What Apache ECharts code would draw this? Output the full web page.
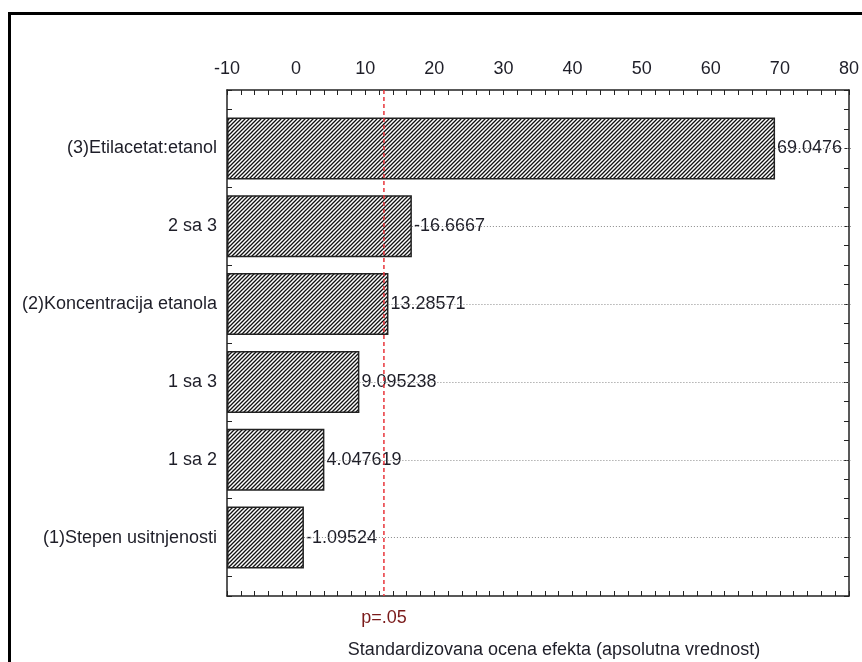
<!DOCTYPE html>
<html>
<head>
<meta charset="utf-8">
<script src="https://cdn.jsdelivr.net/npm/echarts@6/dist/echarts.min.js"></script>
<style>
  html, body { margin: 0; padding: 0; background: #fff; }
  #chart { width: 862px; height: 662px; }
</style>
</head>
<body>
<div id="chart"></div>
<script>
// factors, top to bottom
var factors = [
  "(3)Etilacetat:etanol",
  "2 sa 3",
  "(2)Koncentracija etanola",
  "1 sa 3",
  "1 sa 2",
  "(1)Stepen usitnjenosti"
];
// standardized effects (bar length = absolute value)
var effects = [69.0476, -16.6667, 13.28571, 9.095238, 4.047619, -1.09524];
var xTicks = [-10, 0, 10, 20, 30, 40, 50, 60, 70, 80];
var pCritical = 12.706;
var pLabel = "p=.05";
var axisTitle = "Standardizovana ocena efekta (apsolutna vrednost)";

var xMin = xTicks[0], xMax = xTicks[xTicks.length - 1];
var txt = "#1e1e28";
var font = "Liberation Sans, Arial, sans-serif";

// hatch pattern for bars
var tile = document.createElement("canvas");
tile.width = 4; tile.height = 4;
var ctx = tile.getContext("2d");
ctx.fillStyle = "#fff";
ctx.fillRect(0, 0, 4, 4);
ctx.strokeStyle = "#111";
ctx.lineWidth = 1.3;
ctx.beginPath();
ctx.moveTo(-1, 5); ctx.lineTo(5, -1);
ctx.moveTo(-1, 1); ctx.lineTo(1, -1);
ctx.moveTo(3, 5); ctx.lineTo(5, 3);
ctx.stroke();

var guideLines = effects.map(function (v, i) {
  return [{ coord: [Math.abs(v), factors[i]] }, { coord: [xMax, factors[i]] }];
});

var frameX = {
  gridIndex: 0, type: "value", min: xMin, max: xMax, interval: 10,
  axisLine: { show: true, onZero: false, lineStyle: { color: "#222", width: 1.5 } },
  axisTick: { show: true, inside: true, length: 5, lineStyle: { color: "#222" } },
  minorTick: { show: true, splitNumber: 5, length: 5, lineStyle: { color: "#222" } },
  splitLine: { show: false },
  minorSplitLine: { show: false }
};
var frameY = {
  gridIndex: 0, type: "value", min: -0.75, max: 5.75, interval: 0.25, inverse: true,
  axisLine: { show: true, onZero: false, lineStyle: { color: "#222", width: 1.5 } },
  axisTick: { show: true, inside: true, length: 5, lineStyle: { color: "#222" } },
  axisLabel: { show: false },
  splitLine: { show: false }
};

var option = {
  animation: false,
  textStyle: { fontFamily: font },
  title: {
    text: axisTitle,
    left: 549, top: 636, textAlign: "center",
    textStyle: { fontSize: 18, fontWeight: "normal", color: txt, fontFamily: font }
  },
  graphic: [{
    type: "rect",
    shape: { x: 9.5, y: 13.5, width: 900, height: 700 },
    style: { fill: "none", stroke: "#000", lineWidth: 3 },
    silent: true
  }],
  grid: [
    { left: 227, right: 11, top: 90, bottom: 66 },
    { left: 227, right: 11, top: 109.5, height: 467 }
  ],
  xAxis: [
    Object.assign({}, frameX, {
      position: "top",
      axisLabel: { show: true, fontSize: 18, color: txt, margin: 12 }
    }),
    Object.assign({}, frameX, {
      position: "bottom",
      axisLabel: { show: false }
    }),
    { gridIndex: 1, type: "value", min: xMin, max: xMax, startValue: xMin, show: false }
  ],
  yAxis: [
    Object.assign({}, frameY, { position: "left" }),
    Object.assign({}, frameY, { position: "right" }),
    {
      gridIndex: 1, type: "category", data: factors, inverse: true,
      axisLine: { show: false }, axisTick: { show: false },
      axisLabel: { fontSize: 18, color: txt, margin: 10 }
    }
  ],
  series: [
    {
      type: "line",
      xAxisIndex: 0, yAxisIndex: 0,
      data: [[pCritical, -0.75], [pCritical, 5.75]],
      symbol: "circle", symbolSize: 1,
      itemStyle: { color: "rgba(0,0,0,0)" },
      lineStyle: { color: "#e8343a", width: 1.5, type: [4, 3] },
      label: {
        show: true, position: "bottom", distance: 13,
        fontSize: 18, color: "#7a1a1a",
        formatter: function (p) { return p.dataIndex === 1 ? pLabel : ""; }
      },
      z: 5
    },
    {
      type: "bar",
      xAxisIndex: 2, yAxisIndex: 2,
      data: effects.map(function (v) { return Math.abs(v); }),
      barWidth: 62,
      itemStyle: {
        color: { image: tile, repeat: "repeat" },
        borderColor: "#222", borderWidth: 1.5
      },
      label: {
        show: true, position: "right", distance: 2,
        fontSize: 18, color: txt,
        formatter: function (p) { return String(effects[p.dataIndex]); }
      },
      markLine: {
        silent: true, symbol: ["none", "none"],
        label: { show: false },
        lineStyle: { type: [1, 2], color: "#8a8a8a", width: 1 },
        data: guideLines
      },
      z: 3
    }
  ]
};

var chart = echarts.init(document.getElementById("chart"));
chart.setOption(option);
</script>
</body>
</html>
